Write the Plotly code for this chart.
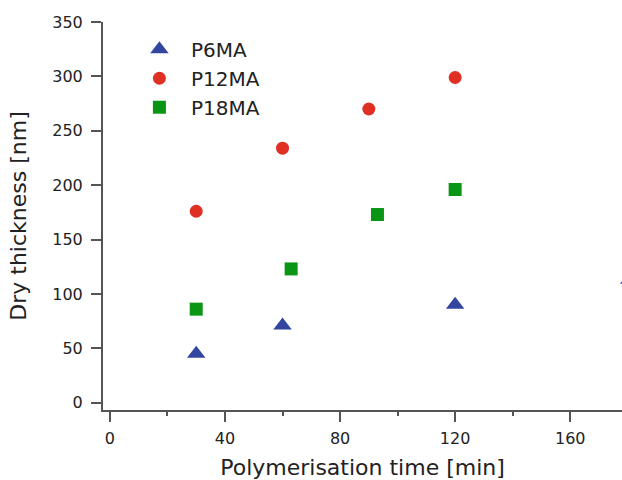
import plotly.graph_objects as go

time_p6 = [30, 60, 120, 180.5]
thick_p6 = [45, 71, 90, 113]
time_p12 = [30, 60, 90, 120, 180.5]
thick_p12 = [176, 234, 270, 299, 340]
time_p18 = [30, 63, 93, 120, 180.5]
thick_p18 = [86, 123, 173, 196, 206]

series = [
    ("P6MA", time_p6, thick_p6, "triangle-up", 16, "#3246A0"),
    ("P12MA", time_p12, thick_p12, "circle", 13, "#E03024"),
    ("P18MA", time_p18, thick_p18, "square", 13, "#0A9614"),
]

FONT = "DejaVu Sans"
fig = go.Figure()
for name, xs, ys, sym, sz, col in series:
    fig.add_trace(go.Scatter(
        x=xs, y=ys, mode="markers", name=name,
        marker=dict(symbol=sym, size=sz, color=col, line=dict(width=0)),
    ))

axis_common = dict(
    showline=True, linecolor="#555555", linewidth=2,
    ticks="outside", tickcolor="#555555", tickwidth=1.5, ticklen=10,
    showgrid=False, zeroline=False, automargin=False,
    tickfont=dict(family=FONT, size=16, color="#222222"),
)

fig.update_layout(
    width=622, height=480,
    margin=dict(l=103, r=0, t=22, b=70),
    paper_bgcolor="white", plot_bgcolor="white",
    showlegend=True,
    legend=dict(
        x=0.048, y=0.98, xanchor="left", yanchor="top",
        font=dict(family=FONT, size=20, color="#222222"),
        bgcolor="rgba(0,0,0,0)", itemwidth=53,
    ),
    xaxis=dict(
        range=[-2.4, 178], tickvals=[0, 40, 80, 120, 160],
        minor=dict(tickvals=[20, 60, 100, 140], ticks="outside", ticklen=4,
                   tickcolor="#555555", tickwidth=1.5),
        ticklabelstandoff=3,
        title=dict(text="Polymerisation time [min]", standoff=18,
                   font=dict(family=FONT, size=22, color="#222222")),
        **axis_common,
    ),
    yaxis=dict(
        range=[-6.7, 350], tickvals=[0, 50, 100, 150, 200, 250, 300, 350],
        ticklabelstandoff=5,
        title=dict(text="Dry thickness [nm]", standoff=20,
                   font=dict(family=FONT, size=22, color="#222222")),
        **axis_common,
    ),
)

fig.write_html(
    "out.html",
    config={"displayModeBar": False},
    post_script="document.body.style.margin='0';document.body.style.overflow='hidden';",
)
